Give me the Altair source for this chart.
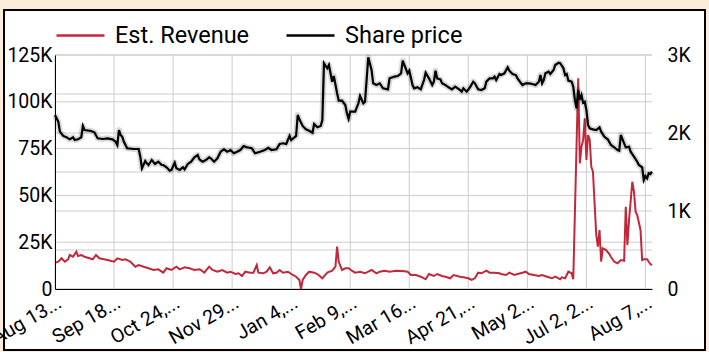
import altair as alt
import pandas as pd

START = "2019-08-13"

# Share price (right axis), day offsets from Aug 13, 2019
price_days = [0, 2, 3, 5, 7, 9, 11, 12, 14, 16, 17, 18, 22, 24, 26, 29, 32, 35, 37, 38, 39, 40, 41, 42, 44, 48, 51, 52, 53, 55, 56, 57, 59, 61, 63, 65, 66, 68, 70, 71, 73, 74, 76, 78, 79, 81, 83, 85, 87, 88, 90, 92, 94, 95, 97, 99, 101, 103, 105, 107, 109, 111, 113, 115, 117, 120, 122, 125, 128, 130, 132, 135, 137, 139, 141, 143, 144, 146, 147, 148, 149, 151, 153, 155, 157, 158, 160, 162, 163, 164, 166, 167, 168, 169, 170, 172, 173, 175, 177, 178, 179, 180, 183, 185, 186, 188, 189, 190, 191, 193, 194, 196, 198, 200, 203, 204, 207, 209, 211, 212, 213, 215, 216, 218, 219, 221, 223, 225, 226, 228, 230, 231, 232, 233, 235, 236, 238, 240, 242, 244, 247, 248, 249, 251, 253, 255, 256, 258, 260, 262, 263, 265, 267, 268, 269, 271, 272, 274, 276, 277, 279, 281, 282, 285, 287, 289, 291, 293, 295, 296, 297, 298, 299, 301, 302, 304, 305, 307, 308, 310, 311, 312, 313, 315, 316, 317, 318, 319, 320, 321, 322, 323, 324, 325, 326, 328, 330, 332, 333, 335, 337, 339, 341, 343, 344, 345, 347, 348, 350, 351, 353, 355, 356, 358, 359, 360, 361, 362, 363, 364]
price_values = [2231, 2145, 2017, 1962, 1945, 1919, 1945, 1910, 1919, 1945, 2090, 2038, 2026, 2009, 1932, 1923, 1932, 1919, 1888, 1846, 2038, 1974, 1952, 1888, 1804, 1795, 1795, 1700, 1547, 1641, 1611, 1590, 1654, 1603, 1632, 1590, 1590, 1560, 1517, 1526, 1619, 1547, 1526, 1560, 1535, 1603, 1632, 1688, 1718, 1663, 1632, 1654, 1688, 1676, 1632, 1676, 1760, 1791, 1760, 1782, 1740, 1760, 1782, 1833, 1817, 1804, 1740, 1760, 1782, 1811, 1782, 1791, 1859, 1868, 1859, 1962, 1910, 1945, 1962, 2231, 2176, 2090, 2047, 2029, 2004, 2115, 2073, 2090, 2167, 2894, 2830, 2872, 2765, 2658, 2731, 2509, 2414, 2414, 2359, 2252, 2180, 2273, 2273, 2381, 2474, 2381, 2401, 2679, 2971, 2808, 2637, 2615, 2637, 2573, 2560, 2701, 2722, 2731, 2765, 2927, 2872, 2765, 2799, 2615, 2573, 2586, 2560, 2679, 2773, 2701, 2615, 2658, 2799, 2701, 2688, 2637, 2615, 2586, 2560, 2594, 2551, 2530, 2573, 2530, 2586, 2658, 2637, 2560, 2551, 2573, 2658, 2701, 2701, 2722, 2679, 2756, 2743, 2765, 2842, 2799, 2756, 2743, 2701, 2615, 2637, 2637, 2628, 2615, 2658, 2743, 2637, 2679, 2765, 2786, 2756, 2808, 2872, 2901, 2894, 2830, 2743, 2756, 2671, 2658, 2594, 2423, 2316, 2551, 2423, 2487, 2388, 2401, 2295, 2103, 2060, 2047, 2038, 2073, 2017, 1952, 1919, 1846, 1817, 1782, 1773, 1974, 1868, 1817, 1824, 1760, 1696, 1632, 1590, 1560, 1397, 1449, 1419, 1483, 1474, 1504]

# Est. Revenue (left axis)
revenue_days = [0, 2, 4, 6, 8, 9, 11, 13, 14, 16, 18, 21, 23, 25, 27, 30, 32, 36, 38, 41, 43, 46, 49, 51, 54, 57, 60, 63, 66, 68, 71, 74, 76, 79, 82, 85, 88, 89, 91, 94, 96, 99, 102, 105, 107, 110, 112, 114, 116, 119, 121, 123, 124, 127, 129, 131, 133, 135, 137, 139, 142, 145, 147, 149, 150, 151, 153, 155, 158, 160, 163, 166, 169, 171, 172, 173, 175, 177, 179, 181, 183, 186, 189, 191, 193, 196, 198, 201, 204, 208, 212, 215, 217, 220, 223, 226, 228, 231, 233, 236, 238, 241, 243, 247, 249, 252, 254, 256, 258, 260, 263, 265, 268, 271, 272, 275, 277, 280, 282, 285, 287, 289, 292, 295, 297, 300, 303, 305, 308, 309, 311, 313, 315, 316, 319, 320, 321, 322, 323, 324, 325, 326, 327, 328, 329, 330, 331, 332, 333, 334, 336, 338, 339, 341, 343, 345, 347, 348, 349, 350, 352, 353, 354, 355, 357, 358, 359, 361, 362, 363, 364]
revenue_values = [14050, 14580, 16400, 14580, 15870, 18160, 17250, 19930, 17630, 18160, 17250, 16400, 15870, 18160, 16400, 15870, 15490, 14580, 16400, 15490, 15870, 14580, 11910, 12820, 11910, 11060, 10150, 10520, 8710, 11060, 10150, 11910, 10520, 11590, 11060, 10150, 10520, 10150, 8710, 11910, 10150, 9240, 10150, 8710, 9240, 8010, 8390, 6940, 9240, 8710, 8710, 12820, 8710, 8390, 9240, 11590, 8390, 8710, 10150, 8710, 9240, 7480, 6570, 4810, 0, 4810, 7480, 9240, 8710, 8010, 5720, 8710, 9780, 11910, 22600, 14580, 10150, 11060, 11060, 9780, 8710, 9240, 8390, 9240, 10150, 8390, 9240, 9780, 9240, 9780, 9620, 9240, 7480, 7480, 6570, 5180, 8010, 6940, 8010, 6940, 6570, 5720, 7480, 6570, 6250, 5720, 4810, 5720, 8710, 8390, 9780, 8710, 8710, 8390, 8010, 7480, 8710, 7480, 8010, 8710, 9240, 8010, 7480, 6940, 7480, 6570, 5720, 6570, 5180, 6250, 5720, 9240, 8390, 5180, 112550, 67150, 76010, 79600, 91190, 68910, 82260, 79970, 65330, 62660, 45780, 28850, 22600, 31520, 14580, 21740, 20830, 18700, 17090, 14580, 13730, 15490, 15120, 43960, 23500, 36860, 57300, 51980, 41290, 39530, 31520, 15490, 15870, 15870, 14580, 13350, 12800]

series_names = ["Est. Revenue", "Share price"]
series_colors = ["#c1283b", "#000000"]

tick_dates = ["2019-08-13", "2019-09-18", "2019-10-24", "2019-11-29", "2020-01-04", "2020-02-09",
              "2020-03-16", "2020-04-21", "2020-05-27", "2020-07-02", "2020-08-07"]
tick_labels = ["Aug 13...", "Sep 18...", "Oct 24,...", "Nov 29...", "Jan 4,...", "Feb 9,...",
               "Mar 16...", "Apr 21,...", "May 2...", "Jul 2, 2...", "Aug 7,..."]
left_ticks = [0, 25000, 50000, 75000, 100000, 125000]
right_grid = [0, 500, 1000, 1500, 2000, 2500, 3000]
right_ticks = [0, 1000, 2000, 3000]

start = pd.Timestamp(START)
price_df = pd.DataFrame({
    "date": start + pd.to_timedelta(price_days, unit="D"),
    "value": price_values,
    "series": series_names[1],
})
rev_df = pd.DataFrame({
    "date": start + pd.to_timedelta(revenue_days, unit="D"),
    "value": revenue_values,
    "series": series_names[0],
})
vgrid_df = pd.DataFrame({"date": pd.to_datetime(tick_dates)})
lgrid_df = pd.DataFrame({"v": left_ticks})
rgrid_df = pd.DataFrame({"v": right_grid})
one_df = pd.DataFrame({"a": [0]})

def dt(s):
    t = pd.Timestamp(s)
    return alt.DateTime(year=t.year, month=t.month, date=t.day)

label_array = "[" + ",".join("'" + s + "'" for s in tick_labels) + "]"
date_array = "[" + ",".join("'" + s + "'" for s in tick_dates) + "]"
x_label_expr = f"{label_array}[indexof({date_array}, timeFormat(datum.value, '%Y-%m-%d'))]"

FONT = "Roboto"
x_axis = alt.Axis(
    values=[dt(s) for s in tick_dates], labelExpr=x_label_expr, labelAngle=-30,
    labelFontSize=19.5, labelFont=FONT, labelColor="#000", labelPadding=4,
    labelOverlap=False, labelFlush=False, labelLimit=200, ticks=False, grid=False,
    domain=True, domainColor="#000", domainWidth=1, title=None, zindex=2,
)
x_enc = alt.X("date:T", scale=alt.Scale(domain=[dt("2019-08-13"), dt("2020-08-11")]), axis=x_axis)

LEFT_DOMAIN = [0, 125000]
RIGHT_DOMAIN = [0, 3000]
k_expr = "datum.value == 0 ? '0' : format(datum.value / 1000, 'd') + 'K'"

left_axis = alt.Axis(orient="left", values=left_ticks, labelExpr=k_expr, labelFontSize=19.5,
                     labelFont=FONT, labelColor="#000", labelPadding=3, ticks=False, grid=False,
                     domain=True, domainColor="#000", domainWidth=1, title=None, zindex=2)
right_axis = alt.Axis(orient="right", values=right_ticks, labelExpr=k_expr, labelFontSize=19.5,
                      labelFont=FONT, labelColor="#000", labelPadding=15, ticks=False, grid=False,
                      domain=False, title=None, zindex=2)

color_enc = alt.Color(
    "series:N",
    scale=alt.Scale(domain=series_names, range=series_colors),
    legend=alt.Legend(orient="none", legendX=0, legendY=-45, direction="horizontal",
                      symbolType="stroke", symbolSize=2304, symbolStrokeWidth=2.5,
                      labelFontSize=23.5, labelFont=FONT, labelColor="#000", labelOffset=9,
                      columnPadding=31, padding=0, title=None, labelLimit=300),
)

GRID = "#cccccc"
bg = alt.Chart(one_df).mark_rect(fill="white", stroke="black", strokeWidth=2).encode(
    x=alt.value(-51), x2=alt.value(650), y=alt.value(-45), y2=alt.value(295)
)
vgrid = alt.Chart(vgrid_df).mark_rule(color=GRID, strokeWidth=1).encode(x=x_enc)
lgrid = alt.Chart(lgrid_df).mark_rule(color=GRID, strokeWidth=1).encode(
    y=alt.Y("v:Q", scale=alt.Scale(domain=LEFT_DOMAIN), axis=None)
)
rgrid = alt.Chart(rgrid_df).mark_rule(color=GRID, strokeWidth=1).encode(
    y=alt.Y("v:Q", scale=alt.Scale(domain=RIGHT_DOMAIN), axis=None)
)
rev_line = alt.Chart(rev_df).mark_line(strokeWidth=2).encode(
    x=x_enc,
    y=alt.Y("value:Q", scale=alt.Scale(domain=LEFT_DOMAIN), axis=left_axis),
    color=color_enc,
)
price_shadow = alt.Chart(price_df).mark_line(strokeWidth=6, color="#000", opacity=0.15,
                                             strokeJoin="round").encode(
    x=x_enc,
    y=alt.Y("value:Q", scale=alt.Scale(domain=RIGHT_DOMAIN), axis=None),
)
price_line = alt.Chart(price_df).mark_line(strokeWidth=2.2).encode(
    x=x_enc,
    y=alt.Y("value:Q", scale=alt.Scale(domain=RIGHT_DOMAIN), axis=right_axis),
    color=color_enc,
)

chart = alt.layer(bg, vgrid, lgrid, rgrid, rev_line, price_shadow, price_line).resolve_scale(
    y="independent"
).properties(
    width=597, height=234,
    autosize="none",
    padding={"left": 55, "top": 55, "right": 57, "bottom": 63},
    background="#fdebdb",
).configure_view(stroke=None).configure(font=FONT)

chart.save("out.html", embed_options={"renderer": "svg", "actions": False})
